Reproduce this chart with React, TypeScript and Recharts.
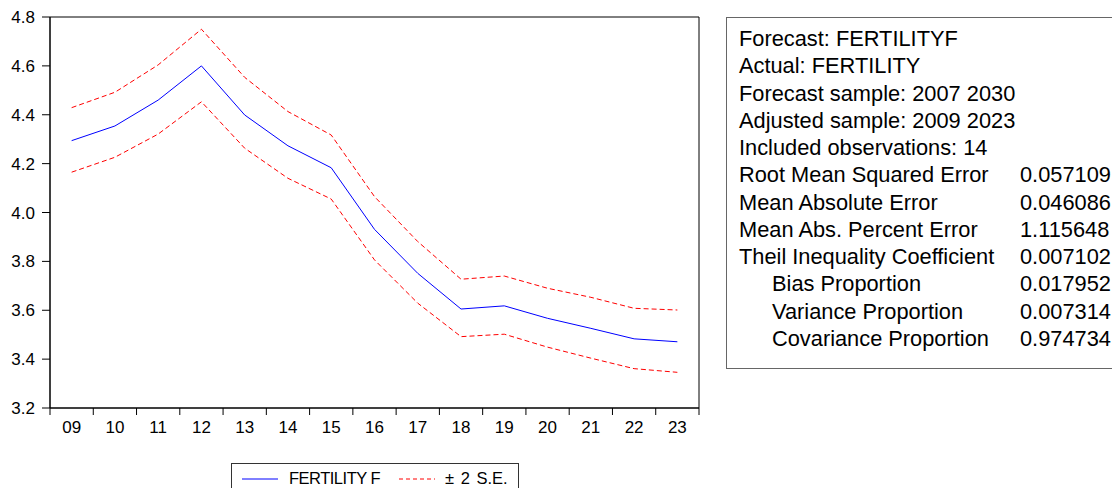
import { LineChart, Line, XAxis, YAxis, ReferenceArea } from "recharts";

// forecast years (two-digit labels) and series
const years = ["09", "10", "11", "12", "13", "14", "15", "16", "17", "18", "19", "20", "21", "22", "23"];
const fertilityF = [4.294, 4.354, 4.46, 4.6, 4.399, 4.273, 4.183, 3.931, 3.751, 3.605, 3.618, 3.567, 3.526, 3.483, 3.471];
const upperSE = [4.429, 4.492, 4.604, 4.75, 4.553, 4.413, 4.317, 4.065, 3.881, 3.727, 3.74, 3.69, 3.653, 3.608, 3.601];
const lowerSE = [4.165, 4.226, 4.321, 4.453, 4.263, 4.14, 4.055, 3.806, 3.629, 3.492, 3.502, 3.449, 3.404, 3.361, 3.346];
const yTicks = [3.2, 3.4, 3.6, 3.8, 4.0, 4.2, 4.4, 4.6, 4.8];

const statLines = [
  "Forecast: FERTILITYF",
  "Actual: FERTILITY",
  "Forecast sample: 2007 2030",
  "Adjusted sample: 2009 2023",
  "Included observations: 14",
];
const statNames = [
  "Root Mean Squared Error",
  "Mean Absolute Error",
  "Mean Abs. Percent Error",
  "Theil Inequality Coefficient",
  "Bias Proportion",
  "Variance Proportion",
  "Covariance Proportion",
];
const statValues = ["0.057109", "0.046086", "1.115648", "0.007102", "0.017952", "0.007314", "0.974734"];
const statIndented = [false, false, false, false, true, true, true];

const data = years.map((year, i) => ({
  idx: i,
  year,
  fcst: fertilityF[i],
  upper: upperSE[i],
  lower: lowerSE[i],
}));

const xDomain: [number, number] = [-0.5, years.length - 0.5];
const boundaryTicks = Array.from({ length: years.length + 1 }, (_, i) => i - 0.5);
const labelTicks = years.map((_, i) => i);

const font = "'Liberation Sans', Arial, sans-serif";
const tickStyle = { fill: "#000", fontSize: 17, fontFamily: font };

export default function App() {
  return (
    <div
      style={{
        position: "absolute",
        left: 0,
        top: 0,
        width: 1112,
        height: 488,
        overflow: "hidden",
        background: "#fff",
        fontFamily: font,
        color: "#000",
      }}
    >
      <div style={{ position: "absolute", left: 0, top: 0 }}>
        <LineChart width={720} height={488} data={data} margin={{ top: 17, right: 21, bottom: 50, left: 0 }}>
          {/* inner axis: tick marks between the years */}
          <XAxis
            xAxisId="a"
            dataKey="idx"
            type="number"
            domain={xDomain}
            ticks={boundaryTicks}
            tickFormatter={() => ""}
            tickSize={7}
            tickLine={{ stroke: "#000" }}
            height={1}
            stroke="#000"
            interval={0}
            allowDataOverflow
          />
          {/* outer axis: year labels centred on each point */}
          <XAxis
            xAxisId="b"
            dataKey="idx"
            type="number"
            domain={xDomain}
            ticks={labelTicks}
            tickFormatter={(v) => years[v] ?? ""}
            tickLine={false}
            axisLine={false}
            tickSize={0}
            tickMargin={12}
            tick={tickStyle}
            height={29}
            interval={0}
            allowDataOverflow
          />
          <YAxis
            domain={[3.2, 4.8]}
            ticks={yTicks}
            tickFormatter={(v) => Number(v).toFixed(1)}
            tick={tickStyle}
            tickSize={8}
            tickMargin={7}
            tickLine={{ stroke: "#000" }}
            width={50}
            stroke="#000"
            interval={0}
            allowDataOverflow
          />
          <ReferenceArea
            xAxisId="a"
            x1={xDomain[0]}
            x2={xDomain[1]}
            y1={3.2}
            y2={4.8}
            fill="none"
            stroke="#000"
            strokeWidth={1}
            ifOverflow="visible"
          />
          <Line
            xAxisId="a"
            type="linear"
            dataKey="upper"
            stroke="#ff0000"
            strokeWidth={1}
            strokeDasharray="5 3"
            dot={false}
            activeDot={false}
            isAnimationActive={false}
          />
          <Line
            xAxisId="a"
            type="linear"
            dataKey="lower"
            stroke="#ff0000"
            strokeWidth={1}
            strokeDasharray="5 3"
            dot={false}
            activeDot={false}
            isAnimationActive={false}
          />
          <Line
            xAxisId="a"
            type="linear"
            dataKey="fcst"
            name="FERTILITY F"
            stroke="#0000ff"
            strokeWidth={1}
            dot={false}
            activeDot={false}
            isAnimationActive={false}
          />
        </LineChart>
      </div>

      {/* legend */}
      <div
        style={{
          position: "absolute",
          left: 231,
          top: 463,
          width: 286,
          height: 40,
          border: "1px solid #333",
          fontSize: 16.5,
        }}
      >
        <svg width={36} height={4} style={{ position: "absolute", left: 10, top: 13 }}>
          <line x1={0} y1={2} x2={36} y2={2} stroke="#0000ff" strokeWidth={1} />
        </svg>
        <span style={{ position: "absolute", left: 57, top: 5, letterSpacing: -0.5 }}>FERTILITY F</span>
        <svg width={36} height={4} style={{ position: "absolute", left: 167, top: 13 }}>
          <line x1={0} y1={2} x2={36} y2={2} stroke="#ff0000" strokeWidth={1} strokeDasharray="4 3" />
        </svg>
        <span style={{ position: "absolute", left: 213, top: 5, wordSpacing: 2 }}>± 2 S.E.</span>
      </div>

      {/* forecast evaluation box */}
      <div
        style={{
          position: "absolute",
          left: 726,
          top: 17,
          width: 420,
          height: 352,
          border: "1px solid #666",
          boxSizing: "border-box",
          paddingTop: 7,
          paddingLeft: 12,
          fontSize: 21.8,
          lineHeight: "27.25px",
        }}
      >
        {statLines.map((t) => (
          <div key={t} style={{ whiteSpace: "nowrap" }}>
            {t}
          </div>
        ))}
        {statNames.map((name, i) => (
          <div key={name} style={{ display: "flex", whiteSpace: "nowrap" }}>
            <span style={{ width: 281, paddingLeft: statIndented[i] ? 33 : 0, boxSizing: "border-box" }}>{name}</span>
            <span>{statValues[i]}</span>
          </div>
        ))}
      </div>
    </div>
  );
}
